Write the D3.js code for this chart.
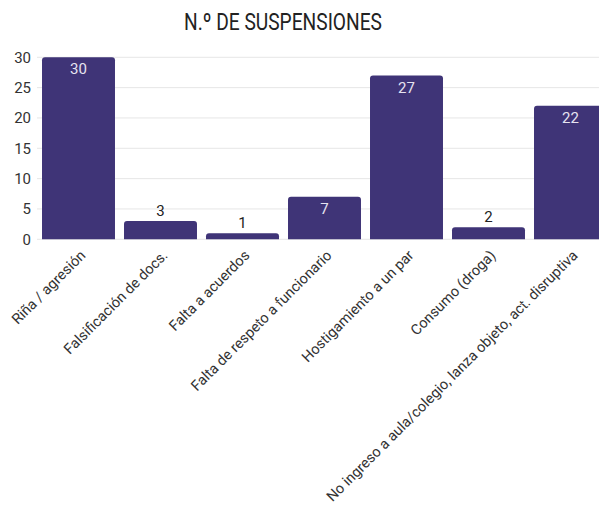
<!DOCTYPE html>
<html>
<head>
<meta charset="utf-8">
<script src="https://cdn.jsdelivr.net/npm/d3@7"></script>
<style>
  body { margin: 0; background: #fff; }
  text { font-family: Roboto, "Noto Sans", sans-serif; }
</style>
</head>
<body>
<div id="chart"></div>
<script>
// data
var categories = ["Riña / agresión", "Falsificación de docs.", "Falta a acuerdos",
  "Falta de respeto a funcionario", "Hostigamiento a un par", "Consumo (droga)",
  "No ingreso a aula/colegio, lanza objeto, act. disruptiva"];
var suspensions = [30, 3, 1, 7, 27, 2, 22];
var yTicks = [0, 5, 10, 15, 20, 25, 30];
var title = "N.º DE SUSPENSIONES";

var svgWidth = 599;
var svgHeight = 510;
var barColor = "#3f3477";

var svg = d3.select("#chart").append("svg").attr("width", svgWidth).attr("height", svgHeight);

// scales
var x = d3.scaleBand().domain(categories).range([37.5, 611.5]).paddingInner(0.11).paddingOuter(0.055);
var y = d3.scaleLinear().domain([0, 30]).range([239.3, 57.3]);

// title
svg.append("text").attr("x", 283).attr("y", 30).attr("text-anchor", "middle")
  .attr("font-size", 24).attr("fill", "#222").attr("textLength", 198).attr("lengthAdjust", "spacingAndGlyphs")
  .text(title);

// gridlines
svg.append("g").selectAll("line").data(yTicks).enter().append("line")
  .attr("x1", 37).attr("x2", svgWidth).attr("y1", d => y(d)).attr("y2", d => y(d))
  .attr("stroke", "#e6e6e6").attr("stroke-width", 1);

// y axis
var leftAxis = d3.axisLeft(y).tickValues(yTicks).tickSize(0).tickPadding(0);
var yAxis = svg.append("g").attr("transform", "translate(31,0)").call(leftAxis);
yAxis.select(".domain").remove();
yAxis.selectAll("text").attr("font-size", 15).attr("fill", "#333").style("font-family", "Roboto, sans-serif");

// bars with rounded top corners
function barPath(d, i) {
  var x0 = x(categories[i]), w = x.bandwidth(), top = y(d), bottom = y(0), r = 3;
  return "M" + x0 + "," + bottom + "V" + (top + r) + "Q" + x0 + "," + top + " " + (x0 + r) + "," + top +
    "H" + (x0 + w - r) + "Q" + (x0 + w) + "," + top + " " + (x0 + w) + "," + (top + r) + "V" + bottom + "Z";
}
svg.append("g").selectAll("path").data(suspensions).enter().append("path")
  .attr("d", barPath).attr("fill", barColor);

// value labels
svg.append("g").selectAll("text").data(suspensions).enter().append("text")
  .attr("x", (d, i) => x(categories[i]) + x.bandwidth() / 2)
  .attr("y", d => d >= 5 ? y(d) + 17 : y(d) - 5)
  .attr("text-anchor", "middle").attr("font-size", 15)
  .attr("fill", d => d >= 5 ? "#e6e3f0" : "#222")
  .text(d => d);

// x labels
var bottomAxis = d3.axisBottom(x).tickSize(0).tickPadding(0);
var xAxis = svg.append("g").attr("transform", "translate(0,239.3)").call(bottomAxis);
xAxis.select(".domain").remove();
xAxis.selectAll("text")
  .attr("font-size", 14.5).attr("fill", "#333").attr("dy", null).attr("y", 0)
  .attr("text-anchor", "end")
  .attr("transform", "translate(8,17) rotate(-45)")
  .style("font-family", "Roboto, sans-serif");
</script>
</body>
</html>
